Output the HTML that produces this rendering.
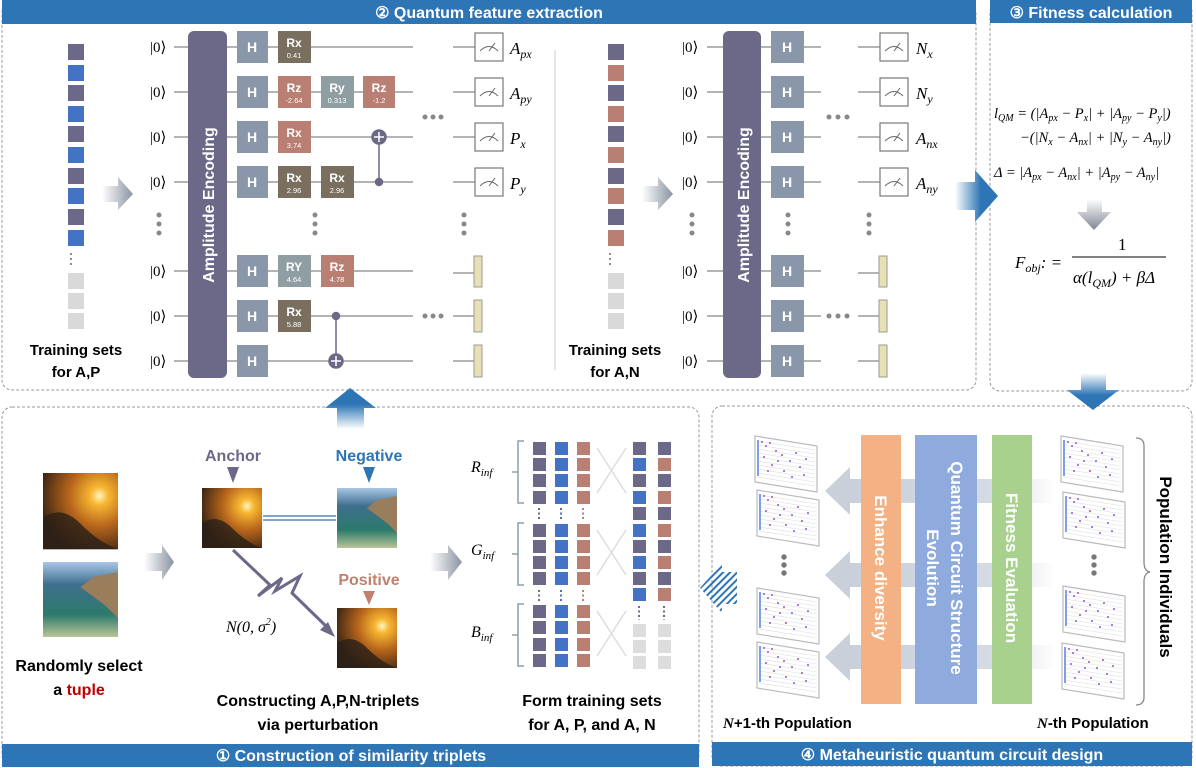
<!DOCTYPE html>
<html><head><meta charset="utf-8"><style>
html,body{margin:0;padding:0;background:#fff;}
svg{display:block;font-family:"Liberation Sans",sans-serif;}
.m{font-family:"Liberation Serif",serif;font-style:italic;}
.b{font-weight:bold;}
</style></head><body>
<svg width="1196" height="768" viewBox="0 0 1196 768" xmlns="http://www.w3.org/2000/svg">
<defs>
<linearGradient id="ga" x1="0" x2="1" y1="0" y2="0"><stop offset="0" stop-color="#fff"/><stop offset="1" stop-color="#8a93a0"/></linearGradient>
<linearGradient id="gd" x1="0" x2="0" y1="0" y2="1"><stop offset="0" stop-color="#fff"/><stop offset="1" stop-color="#7f8792"/></linearGradient>
<linearGradient id="gbr" x1="0" x2="1" y1="0" y2="0"><stop offset="0" stop-color="#fff"/><stop offset="0.6" stop-color="#2e75b6"/><stop offset="1" stop-color="#2e75b6"/></linearGradient>
<linearGradient id="gbu" x1="0" x2="0" y1="1" y2="0"><stop offset="0" stop-color="#fff"/><stop offset="0.6" stop-color="#2e75b6"/><stop offset="1" stop-color="#2e75b6"/></linearGradient>
<linearGradient id="gbd" x1="0" x2="0" y1="0" y2="1"><stop offset="0" stop-color="#fff"/><stop offset="0.6" stop-color="#2e75b6"/><stop offset="1" stop-color="#2e75b6"/></linearGradient>
<linearGradient id="gband" x1="1" x2="0" y1="0" y2="0"><stop offset="0" stop-color="#fff"/><stop offset="0.3" stop-color="#d6dbe3"/><stop offset="1" stop-color="#c9d0da"/></linearGradient>
<radialGradient id="sun" cx="0.75" cy="0.3" r="0.8"><stop offset="0" stop-color="#fff6c0"/><stop offset="0.15" stop-color="#f7b631"/><stop offset="0.5" stop-color="#b8661c"/><stop offset="1" stop-color="#3a2414"/></radialGradient>
<linearGradient id="sea" x1="0" x2="0" y1="0" y2="1"><stop offset="0" stop-color="#a8c6e6"/><stop offset="0.3" stop-color="#3f6f8d"/><stop offset="0.7" stop-color="#2c7a6c"/><stop offset="1" stop-color="#b9c596"/></linearGradient>
<pattern id="hatch" width="5" height="5" patternUnits="userSpaceOnUse" patternTransform="rotate(45)"><rect width="2" height="5" fill="#2e75b6"/></pattern>
<g id="sunimg"><rect width="60" height="60" fill="url(#sun)"/><path d="M0 35 Q15 25 30 40 T60 60 L0 60Z" fill="#2a1f17" opacity="0.8"/></g>
<g id="seaimg"><rect width="60" height="60" fill="url(#sea)"/><path d="M30 20 L40 12 L60 8 L60 45 L50 35 Z" fill="#9a7d5a"/></g>
<g id="sheet"><path d="M0 0 L62 10 L62 56 L0 46Z" fill="#fff" stroke="#bbb" stroke-width="1.2"/>
<g stroke="#ddd" stroke-width="0.6"><path d="M2 5 L60 14 M2 9 L60 18 M2 13 L60 22 M2 17 L60 26 M2 21 L60 30 M2 25 L60 34 M2 29 L60 38 M2 33 L60 42 M2 37 L60 46 M2 41 L60 50"/></g>
<g fill="#b07ae0"><rect x="2" y="4" width="2" height="36" fill="#7da0e8"/><rect x="6" y="5" width="2" height="2"/><rect x="10" y="9" width="2" height="2"/><rect x="14" y="6" width="2" height="2"/><rect x="20" y="14" width="2" height="2"/><rect x="26" y="18" width="2" height="2"/><rect x="8" y="20" width="2" height="2"/><rect x="34" y="24" width="2" height="2"/><rect x="40" y="16" width="2" height="2"/><rect x="16" y="28" width="2" height="2"/><rect x="44" y="30" width="2" height="2"/><rect x="28" y="34" width="2" height="2"/><rect x="50" y="22" width="2" height="2"/><rect x="12" y="34" width="2" height="2"/><rect x="36" y="40" width="2" height="2"/><rect x="22" y="24" width="2" height="2"/><rect x="48" y="38" width="2" height="2"/></g></g>
</defs>

<g fill="none" stroke="#999" stroke-dasharray="3,2" stroke-width="1">
<rect x="2" y="2" width="974" height="388" rx="10"/>
<rect x="990" y="2" width="202" height="389" rx="10"/>
<rect x="2" y="407" width="697" height="358" rx="10"/>
<rect x="712" y="406" width="480" height="360" rx="10"/>
</g>
<rect x="2" y="0" width="974" height="24" fill="#2e75b6"/>
<text x="489" y="18" fill="#fff" class="b" font-size="16" text-anchor="middle">② Quantum feature extraction</text>
<rect x="990" y="0" width="202" height="23" fill="#2e75b6"/>
<text x="1091" y="18" fill="#fff" class="b" font-size="16" text-anchor="middle">③ Fitness calculation</text>
<rect x="2" y="744" width="697" height="23" fill="#2e75b6"/>
<text x="351" y="761" fill="#fff" class="b" font-size="16" text-anchor="middle">① Construction of similarity triplets</text>
<rect x="712" y="742" width="480" height="24" fill="#2e75b6"/>
<text x="952" y="760" fill="#fff" class="b" font-size="16" text-anchor="middle">④ Metaheuristic quantum circuit design</text>

<g>
<rect x="68" y="44" width="16" height="16" fill="#6b6888"/><rect x="68" y="65" width="16" height="16" fill="#4472c4"/>
<rect x="68" y="85" width="16" height="16" fill="#6b6888"/><rect x="68" y="106" width="16" height="16" fill="#4472c4"/>
<rect x="68" y="126" width="16" height="16" fill="#6b6888"/><rect x="68" y="147" width="16" height="16" fill="#4472c4"/>
<rect x="68" y="168" width="16" height="16" fill="#6b6888"/><rect x="68" y="188" width="16" height="16" fill="#4472c4"/>
<rect x="68" y="209" width="16" height="16" fill="#6b6888"/><rect x="68" y="230" width="16" height="16" fill="#4472c4"/>
<g fill="#6b6888"><circle cx="71" cy="254" r="1"/><circle cx="71" cy="259" r="1"/><circle cx="71" cy="264" r="1"/></g>
<rect x="68" y="273" width="16" height="16" fill="#d9d9d9"/><rect x="68" y="293" width="16" height="16" fill="#d9d9d9"/><rect x="68" y="313" width="16" height="16" fill="#d9d9d9"/>
</g>
<text x="76" y="355" class="b" font-size="15" text-anchor="middle">Training sets</text>
<text x="76" y="377" class="b" font-size="15" text-anchor="middle">for A,P</text>
<path d="M102 186 L118 186 L118 177 L133 194 L118 210 L118 202 L102 202Z" fill="url(#ga)"/>

<g stroke="#888" stroke-width="1.3">
<path d="M174 47 H413 M174 92 H413 M174 137 H413 M174 182 H413 M174 271 H413 M174 316 H413 M174 361 H413"/>
<path d="M453 47 H475 M453 92 H475 M453 137 H475 M453 182 H475 M453 273 H474 M453 316 H474 M453 361 H474"/>
</g>
<g font-family="Liberation Serif,serif" font-size="15">
<text x="150" y="52">|0⟩</text><text x="150" y="97">|0⟩</text><text x="150" y="142">|0⟩</text><text x="150" y="187">|0⟩</text>
<text x="150" y="276">|0⟩</text><text x="150" y="321">|0⟩</text><text x="150" y="366">|0⟩</text>
</g>
<rect x="188" y="31" width="39" height="347" rx="6" fill="#6b6888"/>
<text transform="translate(214,205) rotate(-90)" fill="#fff" class="b" font-size="16" text-anchor="middle">Amplitude Encoding</text>
<g fill="#8a97ab">
<rect x="237" y="31" width="31" height="32"/><rect x="237" y="76" width="31" height="32"/><rect x="237" y="121" width="31" height="32"/><rect x="237" y="166" width="31" height="32"/>
<rect x="237" y="255" width="31" height="32"/><rect x="237" y="300" width="31" height="32"/><rect x="237" y="345" width="31" height="32"/>
</g>
<g fill="#fff" class="b" font-size="14" text-anchor="middle">
<text x="252" y="52">H</text><text x="252" y="97">H</text><text x="252" y="142">H</text><text x="252" y="187">H</text><text x="252" y="276">H</text><text x="252" y="321">H</text><text x="252" y="366">H</text>
</g>
<g>
<rect x="278" y="31" width="33" height="32" fill="#7a6e5e"/>
<rect x="278" y="76" width="33" height="32" fill="#b87f72"/><rect x="321" y="76" width="33" height="32" fill="#8f9ea3"/><rect x="363" y="76" width="32" height="32" fill="#b87f72"/>
<rect x="278" y="121" width="33" height="32" fill="#b87f72"/>
<rect x="278" y="166" width="33" height="32" fill="#7a6e5e"/><rect x="321" y="166" width="33" height="32" fill="#7a6e5e"/>
<rect x="278" y="255" width="33" height="32" fill="#8f9ea3"/><rect x="321" y="255" width="33" height="32" fill="#b87f72"/>
<rect x="278" y="300" width="33" height="32" fill="#7a6e5e"/>
</g>
<g fill="#fff" text-anchor="middle">
<g class="b" font-size="12">
<text x="294" y="47">Rx</text><text x="294" y="92">Rz</text><text x="337" y="92">Ry</text><text x="379" y="92">Rz</text><text x="294" y="137">Rx</text>
<text x="294" y="182">Rx</text><text x="337" y="182">Rx</text><text x="294" y="271">RY</text><text x="337" y="271">Rz</text><text x="294" y="316">Rx</text>
</g>
<g font-size="7.5">
<text x="294" y="58">0.41</text><text x="294" y="103">-2.64</text><text x="337" y="103">0.313</text><text x="379" y="103">-1.2</text><text x="294" y="148">3.74</text>
<text x="294" y="193">2.96</text><text x="337" y="193">2.96</text><text x="294" y="282">4.64</text><text x="337" y="282">4.78</text><text x="294" y="327">5.88</text>
</g></g>
<g stroke="#6b6888" stroke-width="1.5" fill="#6b6888">
<line x1="379" y1="137" x2="379" y2="182"/><circle cx="379" cy="137" r="7"/><circle cx="379" cy="182" r="3.5"/>
<line x1="336" y1="316" x2="336" y2="361"/><circle cx="336" cy="361" r="7"/><circle cx="336" cy="316" r="3.5"/>
</g>
<g stroke="#fff" stroke-width="1.5"><path d="M374 137 H384 M379 132 V142 M331 361 H341 M336 356 V366"/></g>
<g fill="#888">
<circle cx="425" cy="117" r="2.5"/><circle cx="433" cy="117" r="2.5"/><circle cx="441" cy="117" r="2.5"/>
<circle cx="425" cy="316" r="2.5"/><circle cx="433" cy="316" r="2.5"/><circle cx="441" cy="316" r="2.5"/>
<circle cx="159" cy="215" r="2.5"/><circle cx="159" cy="224" r="2.5"/><circle cx="159" cy="233" r="2.5"/>
<circle cx="315" cy="215" r="2.5"/><circle cx="315" cy="224" r="2.5"/><circle cx="315" cy="233" r="2.5"/>
<circle cx="464" cy="215" r="2.5"/><circle cx="464" cy="224" r="2.5"/><circle cx="464" cy="233" r="2.5"/>
</g>
<g fill="#fff" stroke="#777" stroke-width="1.2">
<rect x="475" y="33" width="28" height="28"/><rect x="475" y="78" width="28" height="28"/><rect x="475" y="123" width="28" height="28"/><rect x="475" y="168" width="28" height="28"/>
</g>
<g fill="none" stroke="#666" stroke-width="1"><path d="M480 51 Q489 42 498 51 M489 51 L495 43"/><path d="M480 96 Q489 87 498 96 M489 96 L495 88"/><path d="M480 141 Q489 132 498 141 M489 141 L495 133"/><path d="M480 186 Q489 177 498 186 M489 186 L495 178"/></g>
<g fill="#e6e0b4" stroke="#999" stroke-width="1"><rect x="474" y="256" width="8" height="31"/><rect x="474" y="300" width="8" height="32"/><rect x="474" y="345" width="8" height="32"/></g>
<g class="m" font-size="17"><text x="510" y="54">A<tspan font-size="12" dy="4">px</tspan></text><text x="510" y="99">A<tspan font-size="12" dy="4">py</tspan></text><text x="510" y="144">P<tspan font-size="12" dy="4">x</tspan></text><text x="510" y="189">P<tspan font-size="12" dy="4">y</tspan></text></g>
<line x1="555" y1="50" x2="555" y2="370" stroke="#ddd" stroke-width="1.5"/>

<g>
<rect x="608" y="44" width="16" height="16" fill="#6b6888"/><rect x="608" y="65" width="16" height="16" fill="#b87f72"/>
<rect x="608" y="85" width="16" height="16" fill="#6b6888"/><rect x="608" y="106" width="16" height="16" fill="#b87f72"/>
<rect x="608" y="126" width="16" height="16" fill="#6b6888"/><rect x="608" y="147" width="16" height="16" fill="#b87f72"/>
<rect x="608" y="168" width="16" height="16" fill="#6b6888"/><rect x="608" y="188" width="16" height="16" fill="#b87f72"/>
<rect x="608" y="209" width="16" height="16" fill="#6b6888"/><rect x="608" y="230" width="16" height="16" fill="#b87f72"/>
<g fill="#6b6888"><circle cx="610" cy="254" r="1"/><circle cx="610" cy="259" r="1"/><circle cx="610" cy="264" r="1"/></g>
<rect x="608" y="273" width="16" height="16" fill="#d9d9d9"/><rect x="608" y="293" width="16" height="16" fill="#d9d9d9"/><rect x="608" y="313" width="16" height="16" fill="#d9d9d9"/>
</g>
<text x="615" y="355" class="b" font-size="15" text-anchor="middle">Training sets</text>
<text x="615" y="377" class="b" font-size="15" text-anchor="middle">for A,N</text>
<path d="M642 186 L658 186 L658 177 L673 194 L658 210 L658 202 L642 202Z" fill="url(#ga)"/>
<g stroke="#888" stroke-width="1.3">
<path d="M707 47 H821 M707 92 H821 M707 137 H821 M707 182 H821 M707 271 H821 M707 316 H821 M707 361 H821"/>
<path d="M858 47 H880 M858 92 H880 M858 137 H880 M858 182 H880 M858 273 H879 M858 316 H879 M858 361 H879"/>
</g>
<g font-family="Liberation Serif,serif" font-size="15">
<text x="682" y="52">|0⟩</text><text x="682" y="97">|0⟩</text><text x="682" y="142">|0⟩</text><text x="682" y="187">|0⟩</text>
<text x="682" y="276">|0⟩</text><text x="682" y="321">|0⟩</text><text x="682" y="366">|0⟩</text>
</g>
<rect x="723" y="31" width="38" height="347" rx="6" fill="#6b6888"/>
<text transform="translate(749,205) rotate(-90)" fill="#fff" class="b" font-size="16" text-anchor="middle">Amplitude Encoding</text>
<g fill="#8a97ab">
<rect x="771" y="31" width="33" height="32"/><rect x="771" y="76" width="33" height="32"/><rect x="771" y="121" width="33" height="32"/><rect x="771" y="166" width="33" height="32"/>
<rect x="771" y="255" width="33" height="32"/><rect x="771" y="300" width="33" height="32"/><rect x="771" y="345" width="33" height="32"/>
</g>
<g fill="#fff" class="b" font-size="14" text-anchor="middle">
<text x="787" y="52">H</text><text x="787" y="97">H</text><text x="787" y="142">H</text><text x="787" y="187">H</text><text x="787" y="276">H</text><text x="787" y="321">H</text><text x="787" y="366">H</text>
</g>
<g fill="#888">
<circle cx="829" cy="117" r="2.5"/><circle cx="838" cy="117" r="2.5"/><circle cx="847" cy="117" r="2.5"/>
<circle cx="829" cy="316" r="2.5"/><circle cx="838" cy="316" r="2.5"/><circle cx="847" cy="316" r="2.5"/>
<circle cx="692" cy="215" r="2.5"/><circle cx="692" cy="224" r="2.5"/><circle cx="692" cy="233" r="2.5"/>
<circle cx="788" cy="215" r="2.5"/><circle cx="788" cy="224" r="2.5"/><circle cx="788" cy="233" r="2.5"/>
<circle cx="869" cy="215" r="2.5"/><circle cx="869" cy="224" r="2.5"/><circle cx="869" cy="233" r="2.5"/>
</g>
<g fill="#fff" stroke="#777" stroke-width="1.2">
<rect x="880" y="33" width="28" height="28"/><rect x="880" y="78" width="28" height="28"/><rect x="880" y="123" width="28" height="28"/><rect x="880" y="168" width="28" height="28"/>
</g>
<g fill="none" stroke="#666" stroke-width="1"><path d="M885 51 Q894 42 903 51 M894 51 L900 43"/><path d="M885 96 Q894 87 903 96 M894 96 L900 88"/><path d="M885 141 Q894 132 903 141 M894 141 L900 133"/><path d="M885 186 Q894 177 903 186 M894 186 L900 178"/></g>
<g fill="#e6e0b4" stroke="#999" stroke-width="1"><rect x="879" y="256" width="8" height="31"/><rect x="879" y="300" width="8" height="32"/><rect x="879" y="345" width="8" height="32"/></g>
<g class="m" font-size="17"><text x="916" y="54">N<tspan font-size="12" dy="4">x</tspan></text><text x="916" y="99">N<tspan font-size="12" dy="4">y</tspan></text><text x="916" y="144">A<tspan font-size="12" dy="4">nx</tspan></text><text x="916" y="189">A<tspan font-size="12" dy="4">ny</tspan></text></g>

<path d="M955 182 L975 182 L975 170 L998 196 L975 222 L975 210 L955 210Z" fill="url(#gbr)"/>

<g class="m" font-size="14.5">
<text x="994" y="118">l<tspan font-size="10" dy="3">QM</tspan><tspan dy="-3"> = (|A</tspan><tspan font-size="10" dy="3">px</tspan><tspan dy="-3"> − P</tspan><tspan font-size="10" dy="3">x</tspan><tspan dy="-3">| + |A</tspan><tspan font-size="10" dy="3">py</tspan><tspan dy="-3"> − P</tspan><tspan font-size="10" dy="3">y</tspan><tspan dy="-3">|)</tspan></text>
<text x="1020" y="142">−(|N<tspan font-size="10" dy="3">x</tspan><tspan dy="-3"> − A</tspan><tspan font-size="10" dy="3">nx</tspan><tspan dy="-3">| + |N</tspan><tspan font-size="10" dy="3">y</tspan><tspan dy="-3"> − A</tspan><tspan font-size="10" dy="3">ny</tspan><tspan dy="-3">|)</tspan></text>
<text x="994" y="177">Δ = |A<tspan font-size="10" dy="3">px</tspan><tspan dy="-3"> − A</tspan><tspan font-size="10" dy="3">nx</tspan><tspan dy="-3">| + |A</tspan><tspan font-size="10" dy="3">py</tspan><tspan dy="-3"> − A</tspan><tspan font-size="10" dy="3">ny</tspan><tspan dy="-3">|</tspan></text>
</g>
<path d="M1087 199 L1102 199 L1102 212 L1111 212 L1094 230 L1077 212 L1087 212Z" fill="url(#gd)"/>
<g class="m" font-size="17">
<text x="1015" y="268">F<tspan font-size="12" dy="4">obj</tspan><tspan dy="-4">: =</tspan></text>
<text x="1118" y="250" font-style="normal">1</text>
<text x="1073" y="283">α(l<tspan font-size="12" dy="4">QM</tspan><tspan dy="-4">) + βΔ</tspan></text>
</g>
<line x1="1072" y1="257" x2="1166" y2="257" stroke="#000" stroke-width="1"/>
<path d="M1081 373 L1106 373 L1106 390 L1119 390 L1093 410 L1067 390 L1081 390Z" fill="url(#gbd)"/>

<path d="M337 429 L337 408 L325 408 L350 388 L376 408 L364 408 L364 429Z" fill="url(#gbu)"/>

<use href="#sunimg" transform="translate(43,473) scale(1.25,1.27)"/>
<use href="#seaimg" transform="translate(43,562) scale(1.25,1.25)"/>
<path d="M144 553 L162 553 L162 545 L174 562 L162 580 L162 571 L144 571Z" fill="url(#ga)"/>
<text x="79" y="671" class="b" font-size="16" text-anchor="middle">Randomly select</text>
<text x="79" y="695" class="b" font-size="16" text-anchor="middle">a <tspan fill="#c00000">tuple</tspan></text>
<text x="233" y="461" class="b" font-size="16" fill="#6b6888" text-anchor="middle">Anchor</text>
<path d="M227 467 L239 467 L233 483Z" fill="#6b6888"/>
<text x="369" y="461" class="b" font-size="16" fill="#2e75b6" text-anchor="middle">Negative</text>
<path d="M363 467 L375 467 L369 483Z" fill="#2e75b6"/>
<text x="369" y="585" class="b" font-size="16" fill="#c0806f" text-anchor="middle">Positive</text>
<path d="M363 591 L375 591 L369 605Z" fill="#c0806f"/>
<use href="#sunimg" transform="translate(202,488)"/>
<use href="#seaimg" transform="translate(337,488)"/>
<use href="#sunimg" transform="translate(337,608)"/>
<g stroke="#2e75b6" stroke-width="1.3"><line x1="263" y1="516" x2="336" y2="516"/><line x1="263" y1="520" x2="336" y2="520"/></g>
<path d="M233 550 L270 585 L258 596 L282 578 L275 591 L300 576 L292 593 L330 630" fill="none" stroke="#6b6888" stroke-width="3"/>
<path d="M335 637 L320 630 L328 622Z" fill="#6b6888"/>
<text x="226" y="632" class="m" font-size="16" font-style="normal">N(0, σ<tspan font-size="10" dy="-7">2</tspan><tspan dy="7">)</tspan></text>
<text x="318" y="706" class="b" font-size="16" text-anchor="middle">Constructing A,P,N-triplets</text>
<text x="318" y="730" class="b" font-size="16" text-anchor="middle">via perturbation</text>
<path d="M430 553 L448 553 L448 545 L462 562 L448 580 L448 571 L430 571Z" fill="url(#ga)"/>

<g class="m" font-size="16"><text x="471" y="472">R<tspan font-size="11" dy="4">inf</tspan></text><text x="471" y="555">G<tspan font-size="11" dy="4">inf</tspan></text><text x="471" y="637">B<tspan font-size="11" dy="4">inf</tspan></text></g>
<g fill="none" stroke="#8ca0a8" stroke-width="1.5">
<path d="M524 441 H518 V503 H524 M518 472 H512"/><path d="M524 523 H518 V585 H524 M518 554 H512"/><path d="M524 604 H518 V666 H524 M518 635 H512"/>
</g>
<g>
<g fill="#6b6888"><rect x="533" y="442" width="13" height="13"/><rect x="533" y="458" width="13" height="13"/><rect x="533" y="474" width="13" height="13"/><rect x="533" y="491" width="13" height="13"/>
<rect x="533" y="524" width="13" height="13"/><rect x="533" y="540" width="13" height="13"/><rect x="533" y="556" width="13" height="13"/><rect x="533" y="572" width="13" height="13"/>
<rect x="533" y="605" width="13" height="13"/><rect x="533" y="621" width="13" height="13"/><rect x="533" y="638" width="13" height="13"/><rect x="533" y="654" width="13" height="13"/></g>
<g fill="#4472c4"><rect x="555" y="442" width="13" height="13"/><rect x="555" y="458" width="13" height="13"/><rect x="555" y="474" width="13" height="13"/><rect x="555" y="491" width="13" height="13"/>
<rect x="555" y="524" width="13" height="13"/><rect x="555" y="540" width="13" height="13"/><rect x="555" y="556" width="13" height="13"/><rect x="555" y="572" width="13" height="13"/>
<rect x="555" y="605" width="13" height="13"/><rect x="555" y="621" width="13" height="13"/><rect x="555" y="638" width="13" height="13"/><rect x="555" y="654" width="13" height="13"/></g>
<g fill="#b87f72"><rect x="577" y="442" width="13" height="13"/><rect x="577" y="458" width="13" height="13"/><rect x="577" y="474" width="13" height="13"/><rect x="577" y="491" width="13" height="13"/>
<rect x="577" y="524" width="13" height="13"/><rect x="577" y="540" width="13" height="13"/><rect x="577" y="556" width="13" height="13"/><rect x="577" y="572" width="13" height="13"/>
<rect x="577" y="605" width="13" height="13"/><rect x="577" y="621" width="13" height="13"/><rect x="577" y="638" width="13" height="13"/><rect x="577" y="654" width="13" height="13"/></g>
</g>
<g stroke-width="2" stroke-dasharray="2,2.5">
<path d="M539 508 V520 M539 590 V602" stroke="#6b6888"/><path d="M561 508 V520 M561 590 V602" stroke="#4472c4"/><path d="M583 508 V520 M583 590 V602" stroke="#b87f72"/>
<path d="M639 606 V620" stroke="#6b6888"/><path d="M664 606 V620" stroke="#6b6888"/>
</g>
<g stroke="#ddd" stroke-width="1.5" fill="none">
<path d="M597 448 L626 493 M597 493 L626 448 M597 530 L626 575 M597 575 L626 530 M597 611 L626 656 M597 656 L626 611"/>
</g>
<g>
<rect x="633" y="442" width="13" height="13" fill="#6b6888"/><rect x="633" y="458" width="13" height="13" fill="#4472c4"/><rect x="633" y="474" width="13" height="13" fill="#6b6888"/><rect x="633" y="491" width="13" height="13" fill="#4472c4"/>
<rect x="633" y="507" width="13" height="13" fill="#6b6888"/><rect x="633" y="524" width="13" height="13" fill="#4472c4"/><rect x="633" y="540" width="13" height="13" fill="#6b6888"/><rect x="633" y="556" width="13" height="13" fill="#4472c4"/>
<rect x="633" y="572" width="13" height="13" fill="#6b6888"/><rect x="633" y="588" width="13" height="13" fill="#4472c4"/>
<rect x="658" y="442" width="13" height="13" fill="#6b6888"/><rect x="658" y="458" width="13" height="13" fill="#b87f72"/><rect x="658" y="474" width="13" height="13" fill="#6b6888"/><rect x="658" y="491" width="13" height="13" fill="#b87f72"/>
<rect x="658" y="507" width="13" height="13" fill="#6b6888"/><rect x="658" y="524" width="13" height="13" fill="#b87f72"/><rect x="658" y="540" width="13" height="13" fill="#6b6888"/><rect x="658" y="556" width="13" height="13" fill="#b87f72"/>
<rect x="658" y="572" width="13" height="13" fill="#6b6888"/><rect x="658" y="588" width="13" height="13" fill="#b87f72"/>
<g fill="#ddd"><rect x="633" y="624" width="13" height="13"/><rect x="633" y="640" width="13" height="13"/><rect x="633" y="656" width="13" height="13"/><rect x="658" y="624" width="13" height="13"/><rect x="658" y="640" width="13" height="13"/><rect x="658" y="656" width="13" height="13"/></g>
</g>
<text x="592" y="706" class="b" font-size="16" text-anchor="middle">Form training sets</text>
<text x="592" y="730" class="b" font-size="16" text-anchor="middle">for A, P, and A, N</text>

<path d="M737 572 L722 572 L722 563 L700 588 L722 613 L722 604 L737 604Z" fill="url(#hatch)"/>

<g>
<path d="M850 479 H1055 V503 H850Z M850 563 H1055 V587 H850Z M850 645 H1055 V669 H850Z" fill="url(#gband)"/>
<path d="M850 479 V467 L825 491 L850 515 V503Z M850 563 V551 L825 575 L850 599 V587Z M850 645 V633 L825 657 L850 681 V669Z" fill="#c9d0da"/>
</g>
<rect x="861" y="435" width="40" height="269" fill="#f4b183"/>
<rect x="915" y="435" width="62" height="269" fill="#8faadc"/>
<rect x="992" y="435" width="40" height="269" fill="#a9d18e"/>
<g fill="#fff" class="b" font-size="17" text-anchor="middle">
<text transform="translate(875,568) rotate(90)">Enhance diversity</text>
<text transform="translate(951,568) rotate(90)">Quantum Circuit Structure</text>
<text transform="translate(927,568) rotate(90)">Evolution</text>
<text transform="translate(1006,568) rotate(90)">Fitness Evaluation</text>
</g>
<use href="#sheet" transform="translate(755,436)"/>
<use href="#sheet" transform="translate(757,490)"/>
<use href="#sheet" transform="translate(757,588)"/>
<use href="#sheet" transform="translate(757,642)"/>
<use href="#sheet" transform="translate(1061,436)"/>
<use href="#sheet" transform="translate(1063,492)"/>
<use href="#sheet" transform="translate(1063,586)"/>
<use href="#sheet" transform="translate(1062,643)"/>
<g fill="#777"><circle cx="784" cy="557" r="2.7"/><circle cx="784" cy="565" r="2.7"/><circle cx="784" cy="573" r="2.7"/><circle cx="1094" cy="557" r="2.7"/><circle cx="1094" cy="565" r="2.7"/><circle cx="1094" cy="573" r="2.7"/></g>
<path d="M1136 438 Q1144 438 1144 446 V562 Q1144 571 1150 572 Q1144 573 1144 582 V697 Q1144 705 1136 705" fill="none" stroke="#888" stroke-width="1.3"/>
<text transform="translate(1160,567) rotate(90)" class="b" font-size="17" text-anchor="middle">Population Individuals</text>
<text x="723" y="728" class="b" font-size="15"><tspan class="m" font-weight="bold">N</tspan>+1-th Population</text>
<text x="1037" y="728" class="b" font-size="15"><tspan class="m" font-weight="bold">N</tspan>-th Population</text>
</svg>
</body></html>
